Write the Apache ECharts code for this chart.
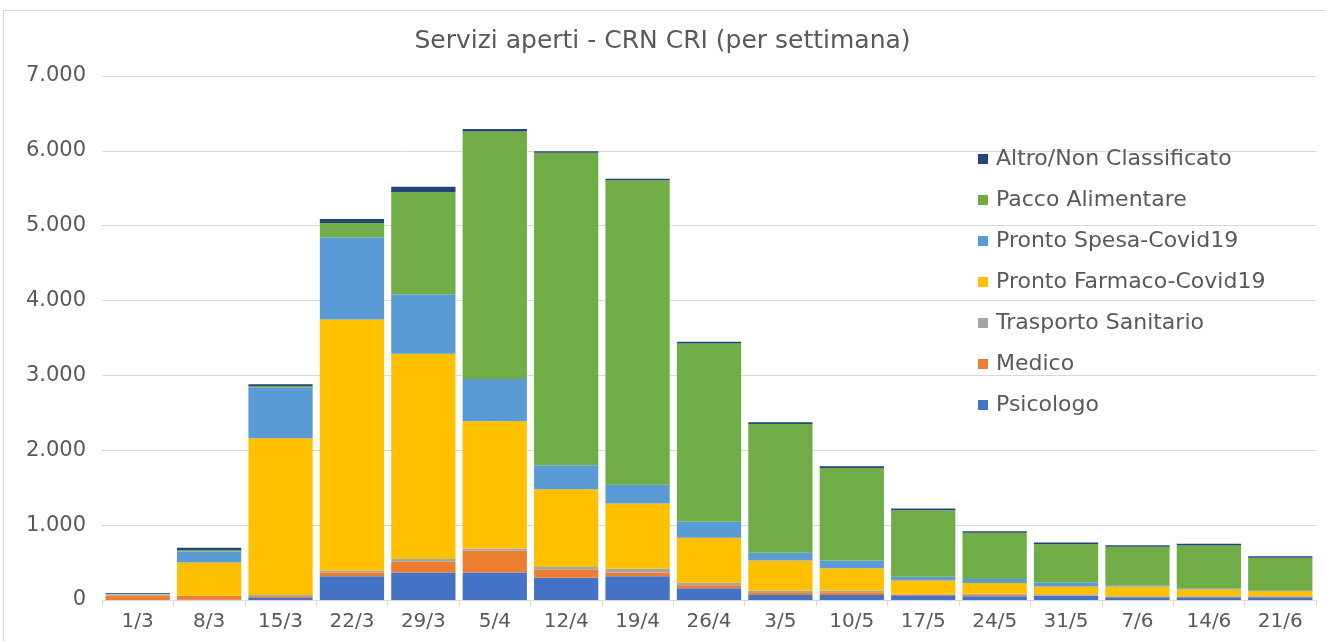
<!DOCTYPE html>
<html>
<head>
<meta charset="utf-8">
<script src="https://cdn.jsdelivr.net/npm/echarts@6/dist/echarts.min.js"></script>
<style>
  html, body { margin: 0; padding: 0; background: #fff; }
  #chart { width: 1325px; height: 641px; }
</style>
</head>
<body>
<div id="chart"></div>
<script>
// settimane
var weeks = ["1/3", "8/3", "15/3", "22/3", "29/3", "5/4", "12/4", "19/4", "26/4",
  "3/5", "10/5", "17/5", "24/5", "31/5", "7/6", "14/6", "21/6"];

// servizi per tipo
var psicologo = [0, 3, 27, 316, 369, 369, 298, 316, 156, 67, 67, 53, 49, 58, 36, 36, 36];
var medico = [58, 49, 13, 53, 142, 289, 107, 53, 40, 27, 36, 18, 22, 5, 5, 5, 5];
var trasporto = [15, 5, 27, 22, 36, 31, 36, 49, 36, 31, 22, 13, 13, 13, 9, 9, 9];
var farmaco = [3, 444, 2093, 3356, 2742, 1698, 1039, 871, 599, 404, 298, 178, 143, 103, 129, 94, 71];
var spesa = [5, 147, 676, 1098, 796, 564, 320, 249, 213, 102, 106, 49, 54, 54, 18, 13, 9];
var pacco = [2, 18, 18, 191, 1364, 3306, 4174, 4071, 2383, 1720, 1236, 888, 616, 513, 513, 571, 433];
var altro = [12, 31, 27, 53, 71, 36, 22, 18, 22, 22, 22, 22, 22, 22, 22, 22, 22];

var yTicks = [0, 1000, 2000, 3000, 4000, 5000, 6000, 7000];

var chartDom = document.getElementById("chart");
var myChart = echarts.init(chartDom);

function bar(name, data, color) {
  return {
    name: name,
    type: "bar",
    stack: "tot",
    barCategoryGap: "10%",
    data: data,
    itemStyle: { color: color }
  };
}

var option = {
  animation: false,
  textStyle: { fontFamily: "DejaVu Sans" },
  graphic: [{
    type: "rect",
    shape: { x: 3.5, y: 10.5, width: 1340, height: 650 },
    style: { fill: "none", stroke: "#d9d9d9", lineWidth: 1 },
    silent: true
  }],
  title: {
    text: "Servizi aperti - CRN CRI (per settimana)",
    left: "center",
    top: 24,
    textStyle: { fontSize: 25, fontWeight: "normal", color: "#595959", fontFamily: "DejaVu Sans" }
  },
  legend: {
    orient: "vertical",
    left: 973,
    top: 143,
    itemWidth: 10,
    itemHeight: 10,
    itemGap: 19,
    icon: "rect",
    data: ["Altro/Non Classificato", "Pacco Alimentare", "Pronto Spesa-Covid19",
      "Pronto Farmaco-Covid19", "Trasporto Sanitario", "Medico", "Psicologo"],
    textStyle: { fontSize: 22, color: "#595959", lineHeight: 22, padding: [0, 0, 0, 3] }
  },
  grid: { left: 102, right: 9, top: 76, bottom: 41, containLabel: false },
  xAxis: {
    type: "category",
    data: weeks,
    axisLine: { lineStyle: { color: "#d9d9d9" } },
    axisTick: { show: true, length: 6, lineStyle: { color: "#d9d9d9" } },
    axisLabel: { fontSize: 20, color: "#595959", margin: 12 }
  },
  yAxis: {
    type: "value",
    min: yTicks[0],
    max: yTicks[yTicks.length - 1],
    interval: 1000,
    axisLine: { show: false },
    axisTick: { show: false },
    splitLine: { lineStyle: { color: "#d9d9d9", width: 1 } },
    axisLabel: {
      fontSize: 21,
      color: "#595959",
      margin: 16,
      formatter: function (v) { return String(v).replace(/\B(?=(\d{3})+(?!\d))/g, "."); }
    }
  },
  series: [
    bar("Psicologo", psicologo, "#4472C4"),
    bar("Medico", medico, "#ED7D31"),
    bar("Trasporto Sanitario", trasporto, "#A5A5A5"),
    bar("Pronto Farmaco-Covid19", farmaco, "#FFC000"),
    bar("Pronto Spesa-Covid19", spesa, "#5B9BD5"),
    bar("Pacco Alimentare", pacco, "#70AD47"),
    bar("Altro/Non Classificato", altro, "#264478")
  ]
};

option && myChart.setOption(option);
</script>
</body>
</html>
